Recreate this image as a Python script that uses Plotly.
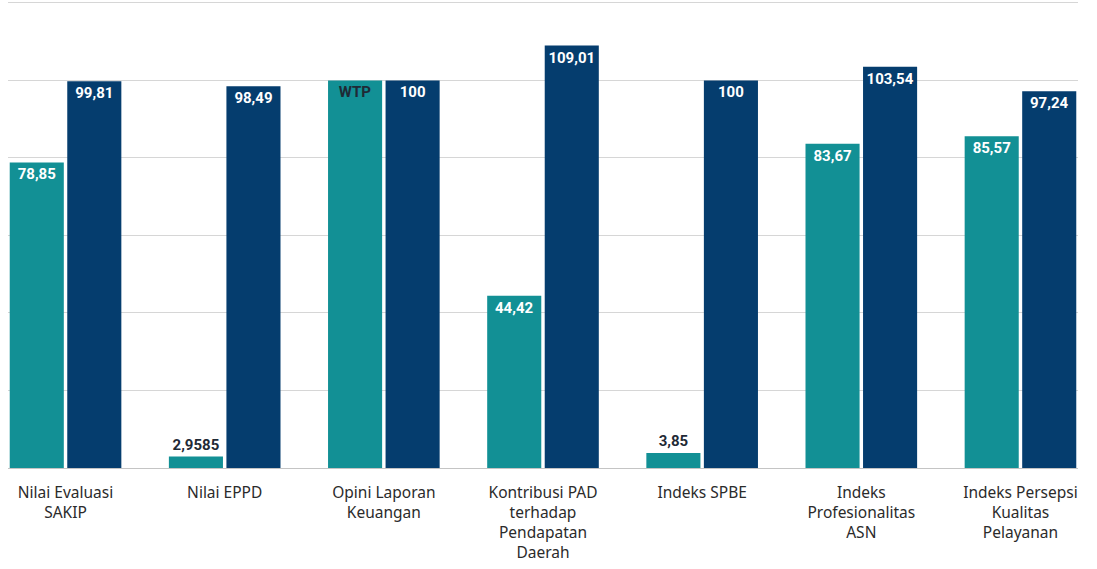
import plotly.graph_objects as go

categories = [
    "Nilai Evaluasi<br>SAKIP",
    "Nilai EPPD",
    "Opini Laporan<br>Keuangan",
    "Kontribusi PAD<br>terhadap<br>Pendapatan<br>Daerah",
    "Indeks SPBE",
    "Indeks<br>Profesionalitas<br>ASN",
    "Indeks Persepsi<br>Kualitas<br>Pelayanan",
]
teal_values = [78.85, 2.9585, 100, 44.42, 3.85, 83.67, 85.57]
teal_labels = ["78,85", "2,9585", "WTP", "44,42", "3,85", "83,67", "85,57"]
navy_values = [99.81, 98.49, 100, 109.01, 100, 103.54, 97.24]
navy_labels = ["99,81", "98,49", "100", "109,01", "100", "103,54", "97,24"]

TEAL = "#129095"
NAVY = "#053d6e"
DARK = "#1f2a36"

teal_pos = ["outside" if v < 10 else "inside" for v in teal_values]
teal_colors = [DARK if (v < 10 or lab == "WTP") else "white" for v, lab in zip(teal_values, teal_labels)]

fig = go.Figure()
fig.add_trace(go.Bar(
    x=categories, y=teal_values, text=teal_labels,
    marker=dict(color=TEAL, line=dict(width=0)),
    textposition=teal_pos, insidetextanchor="end", textangle=0,
    textfont=dict(family="Roboto", size=15, color=teal_colors, weight="bold"),
    cliponaxis=False, showlegend=False, hoverinfo="skip",
))
fig.add_trace(go.Bar(
    x=categories, y=navy_values, text=navy_labels,
    marker=dict(color=NAVY, line=dict(width=0)),
    textposition="inside", insidetextanchor="end", textangle=0,
    textfont=dict(family="Roboto", size=15, color="white", weight="bold"),
    cliponaxis=False, showlegend=False, hoverinfo="skip",
))

fig.update_layout(
    width=1097, height=569,
    margin=dict(l=8, r=19, t=1, b=101),
    paper_bgcolor="white", plot_bgcolor="white",
    barmode="group", bargap=0.277, bargroupgap=0.06,
    uniformtext=dict(minsize=15, mode="show"),
    xaxis=dict(
        range=[-0.3615, 6.3615], showgrid=False, zeroline=False,
        showline=False, ticks="", ticklabelstandoff=13, automargin=False,
        tickfont=dict(family="Noto Sans", size=15.5, color="#2b2b2b"),
    ),
    yaxis=dict(
        range=[0, 120.5], tickvals=[0, 20, 40, 60, 80, 100, 120],
        showgrid=True, gridcolor="#d6d6d6", automargin=False,
        gridwidth=1, zeroline=True, zerolinecolor="#c4c4c4", zerolinewidth=1,
        showticklabels=False, ticks="", showline=False,
    ),
)

fig.write_html(
    "out.html",
    config={"displayModeBar": False},
    post_script="document.body.style.margin='0';document.body.style.overflow='hidden';",
)
